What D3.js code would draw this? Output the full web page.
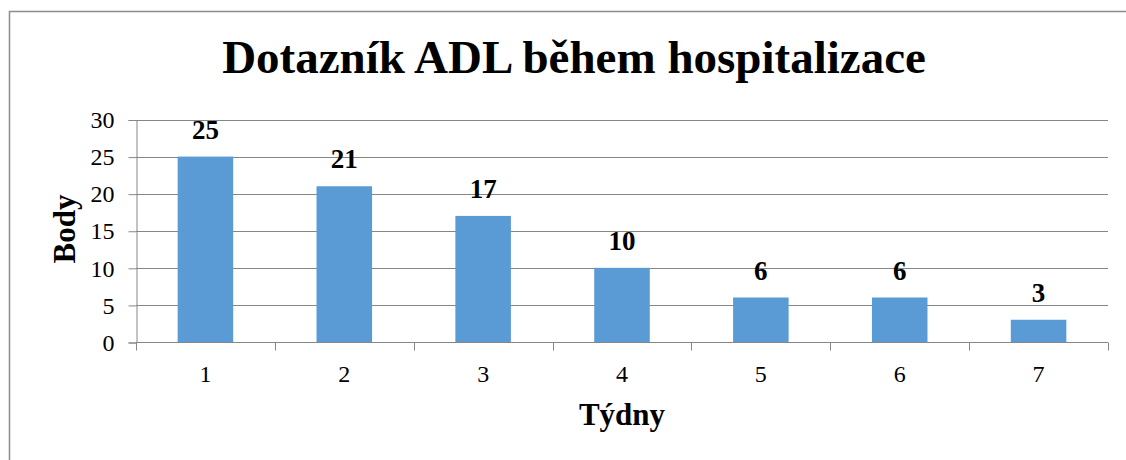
<!doctype html>
<html>
  <head>
    <meta charset="utf-8" />
    <title>Dotazník ADL během hospitalizace</title>
    <script type="text/javascript" src="https://cdnjs.cloudflare.com/ajax/libs/d3/7.8.5/d3.min.js"></script>
    <style>
      body { margin:0; background:#fff; }
      svg text { font-family:"Liberation Serif", "Times New Roman", serif; fill:#000; }
    </style>
  </head>
  <body>
    <div id="chart"></div>
    <script type="text/javascript">

/*chart values*/
var weeks = ["1", "2", "3", "4", "5", "6", "7"];
var points = [25, 21, 17, 10, 6, 6, 3];
var yTicks = [0, 5, 10, 15, 20, 25, 30];
var title = "Dotazník ADL během hospitalizace";
var xTitle = "Týdny";
var yTitle = "Body";

var W = 1126, H = 460;
var m = {left: 136, right: 18, top: 119.5, bottom: 118};

var svg = d3.select("#chart").append("svg")
  .attr("width", W).attr("height", H);

/*outer frame, cut off at right and bottom like the original*/
svg.append("rect")
  .attr("x", 9.5).attr("y", 11.5)
  .attr("width", W + 20).attr("height", H + 20)
  .attr("fill", "none").attr("stroke", "#8c8c8c").attr("stroke-width", 1.5);

var x = d3.scaleBand().domain(weeks)
  .range([m.left, W - m.right]).paddingInner(0.6).paddingOuter(0.3);
var xb = d3.scaleBand().domain(weeks).range([m.left, W - m.right]);
var y = d3.scaleLinear().domain([0, 30]).range([H - m.bottom, m.top]);

/*gridlines*/
svg.append("g").selectAll("line")
  .data(yTicks.slice(1))
  .join("line")
  .attr("x1", m.left).attr("x2", W - m.right)
  .attr("y1", function(d) { return Math.round(y(d)) + 0.5; })
  .attr("y2", function(d) { return Math.round(y(d)) + 0.5; })
  .attr("stroke", "#868686").attr("stroke-width", 1);

/*y axis*/
var yAxis = svg.append("g")
  .attr("transform", "translate(" + (m.left + 0.5) + ",0.5)")
  .call(d3.axisLeft(y).tickValues(yTicks).tickSize(8).tickPadding(14));
yAxis.attr("font-family", null);
yAxis.select(".domain").attr("stroke", "#868686");
yAxis.selectAll(".tick line").attr("stroke", "#868686");
yAxis.selectAll("text").attr("font-size", 24);

/*bars*/
svg.append("g").selectAll("rect")
  .data(points)
  .join("rect")
  .attr("x", function(d, i) { return x(weeks[i]); })
  .attr("width", x.bandwidth())
  .attr("y", function(d) { return y(d); })
  .attr("height", function(d) { return y(0) - y(d); })
  .attr("fill", "#5b9bd5");

/*value labels*/
svg.append("g").selectAll("text")
  .data(points)
  .join("text")
  .attr("x", function(d, i) { return x(weeks[i]) + x.bandwidth() / 2; })
  .attr("y", function(d) { return y(d) - 18; })
  .attr("text-anchor", "middle")
  .attr("font-size", 27).attr("font-weight", "bold")
  .text(function(d) { return d; });

/*x axis: ticks at category boundaries*/
var base = Math.round(y(0)) + 0.5;
svg.append("line")
  .attr("x1", m.left).attr("x2", W - m.right)
  .attr("y1", base).attr("y2", base)
  .attr("stroke", "#868686");
var bounds = weeks.map(function(w) { return xb(w); }).concat([W - m.right]);
svg.append("g").selectAll("line")
  .data(bounds)
  .join("line")
  .attr("x1", function(d) { return Math.round(d) + 0.5; })
  .attr("x2", function(d) { return Math.round(d) + 0.5; })
  .attr("y1", base).attr("y2", base + 8)
  .attr("stroke", "#868686");
svg.append("g").selectAll("text")
  .data(weeks)
  .join("text")
  .attr("x", function(d) { return xb(d) + xb.bandwidth() / 2; })
  .attr("y", 382)
  .attr("text-anchor", "middle")
  .attr("font-size", 24)
  .text(function(d) { return d; });

/*titles*/
svg.append("text")
  .attr("x", 574).attr("y", 73)
  .attr("text-anchor", "middle")
  .attr("font-size", 47).attr("font-weight", "bold")
  .text(title);

svg.append("text")
  .attr("x", (m.left + W - m.right) / 2).attr("y", 425)
  .attr("text-anchor", "middle")
  .attr("font-size", 31).attr("font-weight", "bold")
  .text(xTitle);

svg.append("text")
  .attr("transform", "translate(75," + 229 + ") rotate(-90)")
  .attr("text-anchor", "middle")
  .attr("font-size", 31).attr("font-weight", "bold")
  .text(yTitle);

    </script>
  </body>
</html>
